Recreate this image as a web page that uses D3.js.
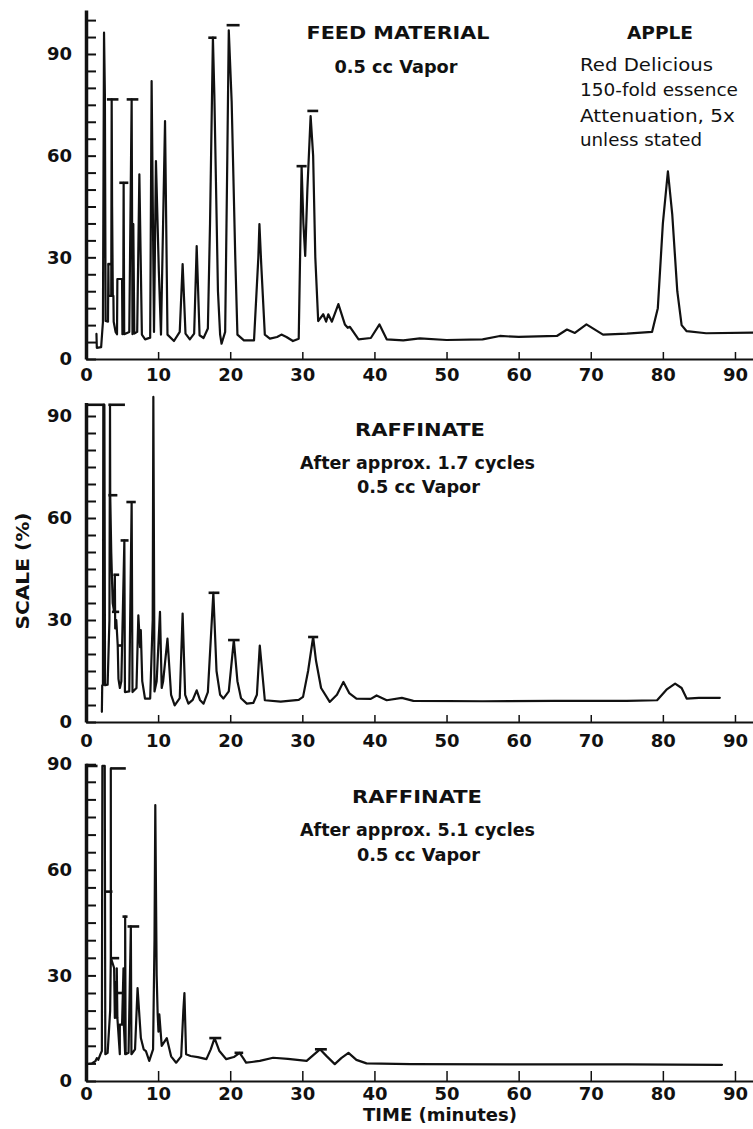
<!DOCTYPE html>
<html><head><meta charset="utf-8">
<script src="https://cdn.jsdelivr.net/npm/d3@7"></script>
<style>
body{margin:0;background:#fff}
svg{display:block}
text{font-family:"DejaVu Sans",sans-serif;fill:#111}
</style>
</head><body>
<svg id="c" width="753" height="1129"></svg>
<script>
// ---------------- DATA ----------------
const xTickValues = [0, 10, 20, 30, 40, 50, 60, 70, 80, 90];
const yLabelValues = [0, 30, 60, 90];

// [time (min), scale (%)]
const feedTrace = [
 [1.45,7.4],[1.5,3.3],[2.1,3.5],[2.35,11],[2.5,96.3],[2.62,78],[2.72,11.2],
 [3.05,11],[3.1,28],[3.14,18.6],[3.5,18.6],[3.56,76.6],[3.62,45],[3.72,18.6],[3.8,18.6],[3.84,11],
 [4.1,8],[4.3,7.3],[4.35,23.6],[5.0,23.6],[5.05,7.3],[5.15,9],[5.22,52],[5.3,7.3],
 [6.0,8],[6.33,76.6],[6.45,7.3],[6.56,39.8],[6.7,7.5],[7.1,8],[7.4,54.5],[7.75,7.2],
 [8.2,5.8],[8.9,6.3],[9.1,82],[9.43,8],[9.7,58.4],[10.1,26],[10.4,7.2],[10.96,70.2],[11.3,7.2],
 [12.2,5.3],[13.0,8],[13.4,28],[13.8,7.5],[14.4,5.8],[15.0,7.5],[15.35,33.3],[15.75,7],[16.3,6.2],
 [16.9,9],[17.2,40],[17.6,94.8],[17.8,78],[18.3,20],[18.6,7.2],[18.8,4.5],[19.3,8],[19.6,60],
 [19.8,97],[20.2,76],[20.7,30],[21.0,7.2],[21.9,5.5],[23.3,5.5],
 [23.9,30],[24.05,39.8],[24.3,28],[24.8,7.2],[25.5,6],[26.5,6.5],[27.1,7.2],[27.8,6.5],[28.7,5.3],
 [29.5,6],[29.9,56.9],[30.15,40],[30.4,30.4],[30.7,50],[31.15,71.7],[31.5,60],[31.8,30],[32.2,11.2],
 [32.9,13.2],[33.3,11],[33.6,13.2],[34.1,11],[35.0,16.2],[35.9,10.2],[36.3,9.2],[36.6,9.5],[37.8,5.8],
 [39.5,6.2],[40.7,10.2],[41.7,5.8],[44,5.5],[46.3,6.1],[50,5.6],[55,5.8],[57.4,6.8],[60,6.5],
 [65.3,6.8],[66.7,8.7],[67.8,7.7],[69.4,10.2],[71.7,7.2],[75,7.5],[78.5,8],[79.3,15],[80.0,40],
 [80.7,55.4],[81.3,42.7],[82.0,20],[82.6,10],[83.3,8.2],[86,7.6],[92.5,7.8]
];
// [time start, time end, scale] attenuation bars
const feedCaps = [
 [2.9,4.5,76.6],[3.0,3.7,28],[4.62,5.87,52],[5.64,7.26,76.6],
 [16.96,18.1,94.8],[19.5,21.3,98.5],[29.2,30.6,56.9],[30.7,32.2,73.2]
];

const raff17Trace = [
 [2.2,3],[2.25,10.8],[2.35,10.8],[2.4,93.3],[2.55,93.3],[2.64,10.8],[3.0,11],[3.25,30],[3.33,93.3],
 [3.36,66.7],[3.5,50],[3.7,35],[3.9,32.4],[4.0,43.3],[4.05,27.5],[4.2,30],[4.4,22.5],[4.5,12.7],
 [4.7,10],[4.9,12],[5.32,53.4],[5.4,8.8],[6.0,9],[6.33,64.7],[6.45,8.8],[7.0,10],[7.26,31.4],
 [7.5,22],[7.6,27],[7.8,12],[8.18,6.9],[8.9,6.9],[9.25,30],[9.34,95.6],[9.5,9],[9.8,12],
 [10.26,32.4],[10.5,10],[10.7,12],[11.3,24.5],[11.8,8],[12.3,4.9],[13.0,7],[13.4,31.9],[13.75,8],
 [14.2,5.4],[14.8,6.5],[15.35,9.3],[15.8,6.5],[16.3,5.4],[16.9,8.8],[17.66,38],[18.1,15],[18.6,8],
 [19.05,6.9],[19.8,9],[20.5,24.1],[21.0,12],[21.5,7],[22.3,5.4],[23.2,5.6],[23.7,8],[24.1,22.5],
 [24.8,6.4],[27,6],[29.5,6.5],[30.1,7.4],[30.8,15],[31.5,25],[31.9,18],[32.6,10],[33.8,5.9],
 [34.8,8],[35.7,11.8],[36.5,8.5],[37.5,6.9],[39.5,6.8],[40.3,7.8],[41.7,6.4],[43.8,7.1],[45.4,6.2],
 [55,6.1],[65,6.2],[75,6.2],[79.2,6.4],[80.5,9.5],[81.7,11.3],[82.6,10],[83.3,6.9],[85,7.1],[87.9,7.1]
];
const raff17Caps = [
 [0.2,2.6,93.3],[3.1,5.4,93.3],[3.1,4.35,66.7],[3.8,4.6,43.3],[3.6,4.6,32.4],[4.3,5.0,22.5],
 [4.8,5.9,53.4],[5.6,6.9,64.7],[17.0,18.5,38],[19.7,21.3,24.1],[30.8,32.2,25]
];

const raff51Trace = [
 [0.1,4.8],[0.8,5.0],[1.3,5.6],[1.5,6.5],[1.7,6.0],[2.0,7.6],[2.2,8.5],[2.27,89.5],[2.6,89.5],[2.68,7.6],
 [3.0,8],[3.35,20],[3.44,34.9],[3.44,88.8],[3.46,34.9],[3.9,32.1],[4.0,17.9],[4.1,28],[4.2,18],
 [4.27,18],[4.27,32],[4.35,18],[4.69,7.6],[4.69,16],[5.0,16],[5.2,32],[5.25,16],[5.43,7.6],[5.43,46.7],
 [5.5,7.6],[5.9,8],[6.22,43.9],[6.3,7.6],[6.8,9],[7.15,26.4],[7.61,12.2],[8.0,9],[8.31,8.5],[8.77,5.7],
 [9.3,9],[9.5,40],[9.61,78.4],[9.8,30],[9.94,18.9],[10.05,14],[10.17,18.9],[10.5,10],[11.2,12.2],
 [11.8,7],[12.5,5.2],[13.2,7],[13.5,20],[13.65,25],[13.88,7.6],[14.5,7.1],[15.5,6.8],[16.7,6.2],
 [17.3,9],[17.83,12.2],[18.5,8.5],[19.45,6.2],[20.5,6.8],[21.3,8.0],[21.8,6.5],[22.2,5.2],[23.0,5.4],
 [24.1,5.7],[25.95,6.6],[28,6.3],[30.6,5.7],[31.6,7.5],[32.45,9.0],[33.4,7.0],[34.5,4.8],[35.4,6.5],
 [36.4,8.0],[37.5,6.0],[38.9,5.0],[45,4.8],[60,4.7],[75,4.7],[88.2,4.6]
];
const raff51Caps = [
 [0.15,1.6,89.5],[2.74,3.67,53.8],[3.44,5.52,88.8],[3.44,4.6,34.9],[4.13,5.29,25],
 [5.06,5.76,46.7],[5.76,7.38,43.9],[17.1,18.76,12.2],[20.6,21.8,8.0],[31.75,33.4,9.0]
];

const feedText = ["FEED MATERIAL", "0.5 cc Vapor"];
const appleText = ["APPLE", "Red Delicious", "150-fold essence", "Attenuation, 5x", "unless stated"];
const raff17Text = ["RAFFINATE", "After approx. 1.7 cycles", "0.5 cc Vapor"];
const raff51Text = ["RAFFINATE", "After approx. 5.1 cycles", "0.5 cc Vapor"];
const xTitle = "TIME (minutes)";
const yTitle = "SCALE (%)";

// ---------------- DRAW ----------------
const svg = d3.select("#c");
const x = d3.scaleLinear().domain([0, 92.5]).range([86, 753]);

const panels = [
  {y0:359, k:3.389, top:103, pad:9,  tick:7,  trace:feedTrace,  caps:feedCaps},
  {y0:722, k:3.40,  top:94,  pad:12, tick:7,  trace:raff17Trace, caps:raff17Caps},
  {y0:1081,k:3.52,  top:90.3,pad:6,  tick:10, trace:raff51Trace, caps:raff51Caps}
];

function styleText(sel, size, weight){
  sel.attr("font-family","DejaVu Sans, sans-serif").attr("font-size",size)
     .attr("font-weight",weight).attr("fill","#111");
}

panels.forEach(P => {
  const y = d3.scaleLinear().domain([0, P.top]).range([P.y0, P.y0 - P.top*P.k]);

  // x axis
  const gx = svg.append("g").attr("transform", `translate(0,${P.y0})`)
    .call(d3.axisBottom(x).tickValues(xTickValues).tickSizeInner(-P.tick).tickSizeOuter(0).tickPadding(P.pad));
  gx.select(".domain").attr("stroke","#111").attr("stroke-width",2);
  gx.selectAll(".tick line").attr("stroke","#111").attr("stroke-width",1.5);
  styleText(gx.selectAll("text"), 18, "bold");

  // y axis minor ticks
  const minor = d3.range(0, P.top + 0.01, 5);
  const gy = svg.append("g").attr("transform", `translate(${x(0)},0)`)
    .call(d3.axisLeft(y).tickValues(minor).tickSizeInner(-10).tickSizeOuter(0).tickFormat(""));
  gy.select(".domain").attr("stroke","#111").attr("stroke-width",3.5);
  gy.selectAll(".tick line").attr("stroke","#111").attr("stroke-width",2);

  // y labels
  const gyl = svg.append("g").attr("transform", `translate(${x(0)},0)`)
    .call(d3.axisLeft(y).tickValues(yLabelValues).tickSize(0).tickPadding(14));
  gyl.select(".domain").remove();
  styleText(gyl.selectAll("text"), 18, "bold");

  // trace
  const line = d3.line().x(d => x(d[0])).y(d => y(d[1]));
  svg.append("path").datum(P.trace).attr("d", line)
    .attr("fill","none").attr("stroke","#111").attr("stroke-width",2.2)
    .attr("stroke-linejoin","round").attr("stroke-linecap","round");

  // attenuation bars
  svg.append("g").selectAll("line").data(P.caps).enter().append("line")
    .attr("x1", d => x(d[0])).attr("x2", d => x(d[1]))
    .attr("y1", d => y(d[2])).attr("y2", d => y(d[2]))
    .attr("stroke","#111").attr("stroke-width",2.6);
});

// annotations
function addText(str, cx, cy, w, size, weight, anchor){
  const t = svg.append("text").attr("x", cx).attr("y", cy).attr("dy","0.36em")
    .attr("text-anchor", anchor || "middle").text(str)
    .attr("textLength", w).attr("lengthAdjust","spacingAndGlyphs");
  styleText(t, size, weight);
  return t;
}
addText(feedText[0], 398, 33, 183, 18, "bold");
addText(feedText[1], 396, 67, 123, 18, "bold");
addText(appleText[0], 660, 33, 66, 18, "bold");
addText(appleText[1], 580, 65, 133, 18, "normal", "start");
addText(appleText[2], 580, 90, 158, 18, "normal", "start");
addText(appleText[3], 580, 116, 155, 18, "normal", "start");
addText(appleText[4], 580, 140, 122, 18, "normal", "start");

addText(raff17Text[0], 420, 430, 130, 18, "bold");
addText(raff17Text[1], 417.5, 463, 235, 18, "bold");
addText(raff17Text[2], 418.5, 487, 123, 18, "bold");

addText(raff51Text[0], 417, 797, 130, 18, "bold");
addText(raff51Text[1], 417.5, 830, 235, 18, "bold");
addText(raff51Text[2], 418.5, 855, 123, 18, "bold");

addText(xTitle, 440, 1115, 154, 17, "bold");
const yt = addText(yTitle, 0, 0, 117, 18, "bold");
yt.attr("transform","translate(23,571) rotate(-90)");
</script>
</body></html>
